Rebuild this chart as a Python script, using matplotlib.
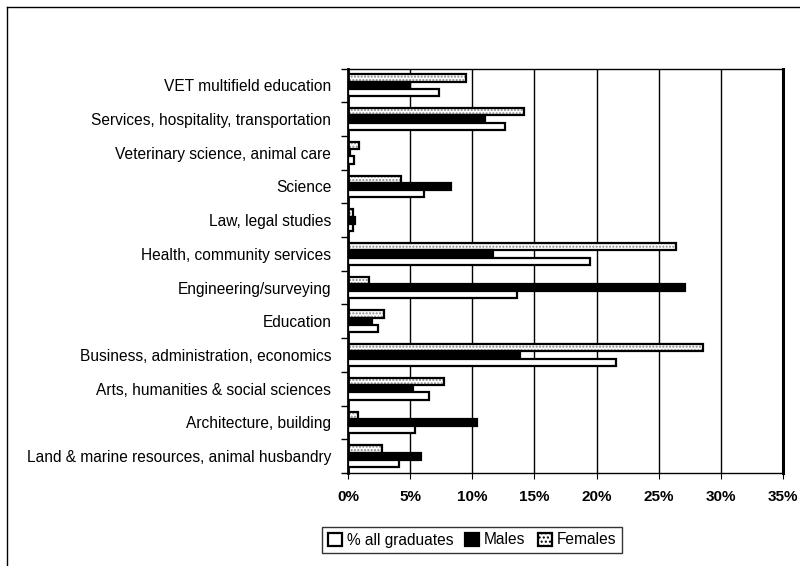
import matplotlib
matplotlib.use("Agg")
import matplotlib.pyplot as plt
from matplotlib.patches import Patch
from matplotlib.lines import Line2D
import numpy as np

plt.rcParams['font.family'] = ['Liberation Sans', 'DejaVu Sans']

categories = [
    "VET multifield education",
    "Services, hospitality, transportation",
    "Veterinary science, animal care",
    "Science",
    "Law, legal studies",
    "Health, community services",
    "Engineering/surveying",
    "Education",
    "Business, administration, economics",
    "Arts, humanities & social sciences",
    "Architecture, building",
    "Land & marine resources, animal husbandry",
]
females = [9.5, 14.2, 0.9, 4.3, 0.4, 26.4, 1.7, 2.9, 28.6, 7.7, 0.8, 2.7]
males = [5.0, 11.0, 0.2, 8.3, 0.6, 11.7, 27.1, 1.9, 13.8, 5.2, 10.4, 5.9]
all_grads = [7.3, 12.6, 0.5, 6.1, 0.4, 19.5, 13.6, 2.4, 21.6, 6.5, 5.4, 4.1]
xticks = [0, 5, 10, 15, 20, 25, 30, 35]

fig = plt.figure(figsize=(8, 5.66), dpi=100)
ax = fig.add_axes([348/800, 1-473/566, (783-348)/800, (473-68.5)/566])

n = len(categories)
y = np.arange(n)[::-1]
h = 0.215

ax.set_axisbelow(True)
ax.grid(axis='x', color='black', linewidth=1.0)

# Females: dotted fill
ax.barh(y + h, females, height=h, color='white', hatch='.....', edgecolor='#888888', linewidth=0, zorder=2)
ax.barh(y + h, females, height=h, facecolor='none', edgecolor='black', linewidth=1.6, zorder=3)
ax.barh(y, males, height=h, color='black', edgecolor='black', linewidth=1.6, zorder=3)
ax.barh(y - h, all_grads, height=h, color='white', edgecolor='black', linewidth=1.6, zorder=3)

ax.set_xlim(0, 35)
ax.set_ylim(-0.5, n - 0.5)
ax.set_xticks(xticks)
ax.set_xticklabels([f"{v}%" for v in xticks], fontsize=11, fontweight='bold')
ax.set_yticks(y)
ax.set_yticklabels(categories, fontsize=11.2)
ax.tick_params(axis='y', which='major', length=0, pad=12)
ax.set_yticks(np.arange(n + 1) - 0.5, minor=True)
ax.tick_params(axis='y', which='minor', length=5, direction='out', width=1)
ax.tick_params(axis='x', which='major', length=4, direction='out', pad=8)

for s in ['top', 'bottom', 'left']:
    ax.spines[s].set_linewidth(1.0)
ax.spines['left'].set_linewidth(2.0)
ax.spines['right'].set_linewidth(2.2)

handles = [
    Patch(facecolor='white', edgecolor='black', linewidth=1.6),
    Patch(facecolor='black', edgecolor='black', linewidth=1.6),
    Patch(facecolor='white', edgecolor='black', hatch='....', linewidth=1.6),
]
leg = fig.legend(handles, ["% all graduates", "Males", "Females"], ncol=3,
                 loc='center', bbox_to_anchor=(472/800, 1-540/566),
                 frameon=True, fancybox=False, fontsize=11.2,
                 handlelength=0.9, handleheight=0.9, handletextpad=0.3,
                 columnspacing=0.8, borderpad=0.35, borderaxespad=0)
leg.get_frame().set_edgecolor('black')
leg.get_frame().set_linewidth(1.0)

# chart area border (left and top)
fig.add_artist(Line2D([7/800, 7/800], [0, 1-6.5/566], transform=fig.transFigure, color='black', linewidth=1.0))
fig.add_artist(Line2D([7/800, 1], [1-6.5/566, 1-6.5/566], transform=fig.transFigure, color='black', linewidth=1.0))

fig.savefig("out.png", dpi=100)
